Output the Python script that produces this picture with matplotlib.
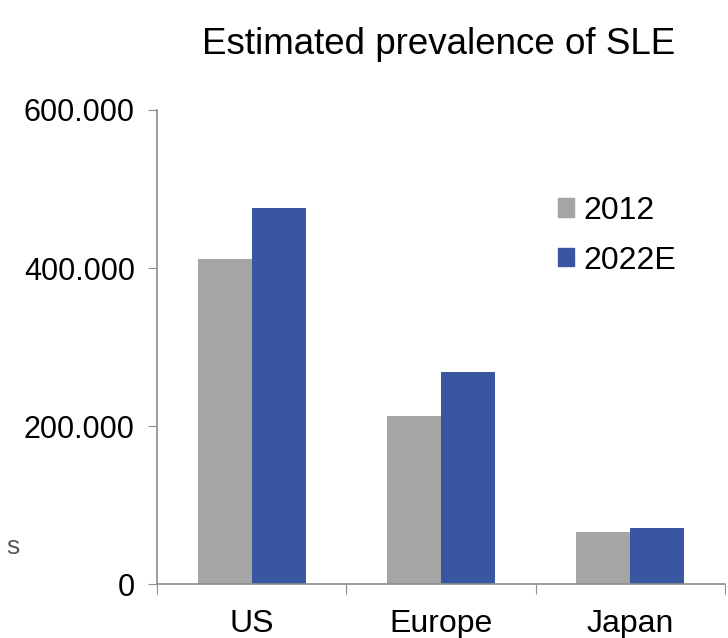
import matplotlib
matplotlib.use("Agg")
import matplotlib.pyplot as plt
import numpy as np
from matplotlib.patches import Patch
from matplotlib.ticker import FuncFormatter

plt.rcParams["font.family"] = ["Liberation Sans", "DejaVu Sans"]

regions = ["US", "Europe", "Japan"]
series_names = ["2012", "2022E"]
prev_2012 = [411000, 213000, 66000]
prev_2022 = [476000, 269000, 71000]
y_ticks = [0, 200000, 400000, 600000]

GREY = "#A5A5A5"
BLUE = "#3857A0"
AXIS = "#8C8C8C"

fig = plt.figure(figsize=(7.28, 6.38), dpi=100)
ax = fig.add_axes([0.2157, 0.0842, 0.7802, 0.7434])

x = np.arange(len(regions))
w = 0.285
ax.bar(x - w / 2, prev_2012, width=w, color=GREY, label=series_names[0])
ax.bar(x + w / 2, prev_2022, width=w, color=BLUE, label=series_names[1])

ax.set_xlim(-0.5, len(regions) - 0.5)
ax.set_ylim(0, 600000)

# y labels use "." as the thousands separator
ax.set_yticks(y_ticks)
ax.yaxis.set_major_formatter(
    FuncFormatter(lambda v, _: "0" if v == 0 else f"{int(v):,}".replace(",", "."))
)

# category boundaries get the tick marks, names sit in between
ax.set_xticks(np.arange(-0.5, len(regions) + 0.5, 1.0))
ax.set_xticklabels([])
ax.set_xticks(x, minor=True)
ax.set_xticklabels(regions, minor=True)
ax.tick_params(axis="x", which="minor", length=0, pad=18, labelsize=23)
ax.tick_params(axis="x", which="major", length=7, color=AXIS, direction="out")
ax.tick_params(axis="y", length=6.5, color=AXIS, direction="out", pad=9.5, labelsize=22)

for side in ["top", "right"]:
    ax.spines[side].set_visible(False)
for side in ["left", "bottom"]:
    ax.spines[side].set_color(AXIS)
    ax.spines[side].set_linewidth(1.2)

handles = [Patch(color=GREY), Patch(color=BLUE)]
fig.legend(handles, series_names, loc="upper left", bbox_to_anchor=(0.727, 0.738),
           frameon=False, fontsize=23, handlelength=0.5, handleheight=0.5,
           handletextpad=0.3, labelspacing=0.62)

fig.text(0.603, 0.93, "Estimated prevalence of SLE", ha="center", va="center", fontsize=26.5)
fig.text(0.009, 0.142, "s", ha="left", va="center", fontsize=19, color="#595959")

fig.savefig("out.png", dpi=100)
